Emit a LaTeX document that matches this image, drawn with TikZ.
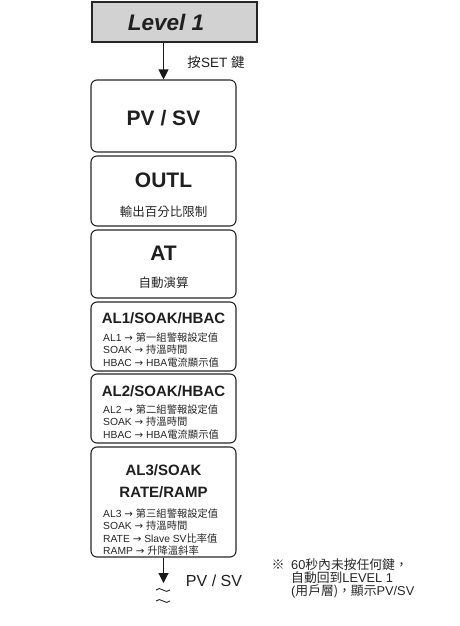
\documentclass[tikz,border=0pt]{standalone}
\usepackage{fontspec}
\setmainfont{Liberation Sans}
\newfontfamily\cjk{Noto Sans CJK TC}
\newfontfamily\sym{DejaVu Sans}
\newcommand{\toarr}{{\sym →}}
\usetikzlibrary{arrows.meta,positioning}

\begin{document}
\begin{tikzpicture}[x=1pt,y=-1pt,>={Triangle[length=10pt,width=10pt]},
  menubox/.style={draw=black!85,rounded corners=6pt,line width=1.1pt,minimum width=145pt,inner sep=0pt},
  bigtitle/.style={font=\bfseries\fontsize{21}{21}\selectfont,text=black!88},
  smalltitle/.style={font=\bfseries\fontsize{15}{22}\selectfont,text=black!88,align=center},
  subtext/.style={font=\cjk\fontsize{12.5}{14}\selectfont,text=black!85},
  detail/.style={font=\fontsize{10.3}{12.6}\selectfont,text=black!85,align=left,anchor=west,inner sep=0pt},
  flow/.style={->,line width=1.1pt,draw=black!90}]
 \useasboundingbox (0,0) rectangle (460,626);
 % --- level header ---
 \node[draw=black!85,fill=gray!35,line width=1.5pt,minimum width=165pt,minimum height=40pt] (lvl) at (174.5,22) {};
 \node[font=\bfseries\itshape\fontsize{22.5}{22}\selectfont,text=black!88] (lvltxt) at (166,22) {Level 1};
 % --- menu boxes ---
 \node[menubox,minimum height=72pt] (pv) at (163.5,116) {};
 \node[menubox,minimum height=70pt] (outl) at (163.5,191) {};
 \node[menubox,minimum height=68pt] (at) at (163.5,264) {};
 \node[menubox,minimum height=69pt] (alone) at (163.5,336.5) {};
 \node[menubox,minimum height=69pt] (altwo) at (163.5,408.5) {};
 \node[menubox,minimum height=110pt] (althree) at (163.5,502) {};
 % --- texts ---
 \node[bigtitle] (pvtxt) at (163.5,118) {PV / SV};
 \node[bigtitle] (outltxt) at (163.5,180) {OUTL};
 \node[subtext] (outlsub) at (163.5,212) {輸出百分比限制};
 \node[bigtitle] (attxt) at (163.5,253) {AT};
 \node[subtext] (atsub) at (163.5,283) {自動演算};
 \node[smalltitle] (alonetxt) at (163.5,318) {AL1/SOAK/HBAC};
 \node[detail] (alonedet) at (103,350) {AL1 \toarr{} {\cjk 第一組警報設定值}\\SOAK \toarr{} {\cjk 持溫時間}\\HBAC \toarr{} HBA{\cjk 電流顯示值}};
 \node[smalltitle] (altwotxt) at (163.5,391) {AL2/SOAK/HBAC};
 \node[detail] (altwodet) at (103,422) {AL2 \toarr{} {\cjk 第二組警報設定值}\\SOAK \toarr{} {\cjk 持溫時間}\\HBAC \toarr{} HBA{\cjk 電流顯示值}};
 \node[smalltitle] (althreetxt) at (163.5,481) {AL3/SOAK\\RATE/RAMP};
 \node[detail] (althreedet) at (103,532) {AL3 \toarr{} {\cjk 第三組警報設定值}\\SOAK \toarr{} {\cjk 持溫時間}\\RATE \toarr{} Slave SV{\cjk 比率值}\\RAMP \toarr{} {\cjk 升降溫斜率}};
 % --- arrows ---
 \draw[flow] (lvl.south -| pv.north) -- (pv.north);
 \node[font=\fontsize{13.5}{14}\selectfont,text=black!88] (setkey) at (216,62) {{\cjk 按}SET {\cjk 鍵}};
 \coordinate (tail) at (163.5,583);
 \draw[flow] (althree) -- (tail);
 \node[font=\fontsize{16}{16}\selectfont,text=black!88] (backpv) at (214,581) {PV / SV};
 \foreach \y in {590,601}
   \draw[line width=0.9pt,black!85] (156,\y) .. controls (160,{\y-5}) and (166,{\y+5}) .. (170,\y);
 % --- note ---
 \node[font=\cjk\fontsize{13}{13}\selectfont,text=black!85] (mark) at (278,565) {※};
 \node[font=\fontsize{12.8}{13}\selectfont,text=black!85,align=left,anchor=north west,inner sep=0pt] (note) at (291,558) {60{\cjk 秒內未按任何鍵，}\\{\cjk 自動回到}LEVEL 1\\({\cjk 用戶層)，顯示}PV/SV};
\end{tikzpicture}
\end{document}
